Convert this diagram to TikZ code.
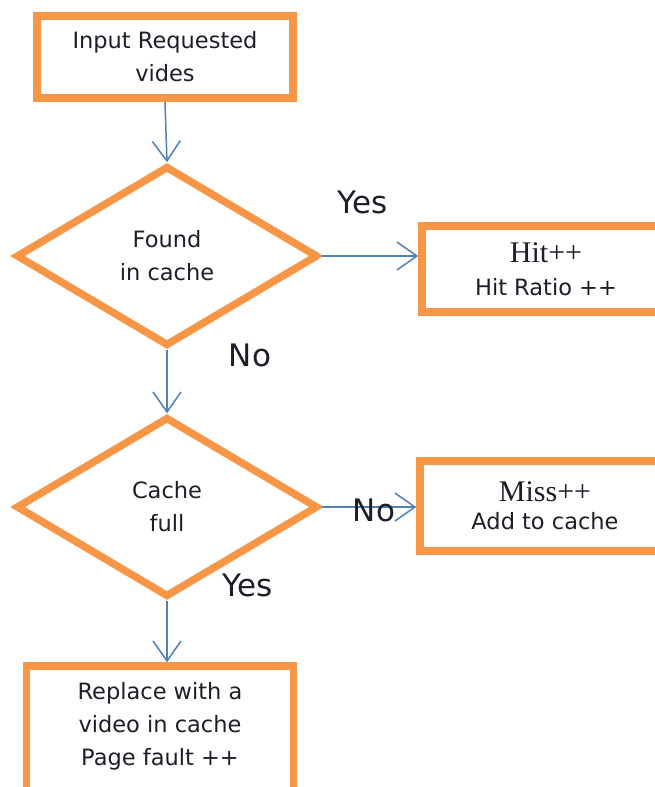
\documentclass[tikz,border=0pt]{standalone}
\usepackage{fontspec}
\setmainfont{DejaVu Sans}
\newfontfamily\hitfont{Liberation Serif}
\usetikzlibrary{positioning,arrows.meta,shapes.geometric}
\definecolor{boxorange}{HTML}{F79646}
\definecolor{flowblue}{HTML}{4F81BD}
\definecolor{inkdark}{HTML}{1E1E28}

\begin{document}
\begin{tikzpicture}[x=1pt, y=-1pt,
    every node/.style={font=\fontsize{22.5}{33}\selectfont, text=inkdark},
    box/.style={draw=boxorange, line width=7.5pt, fill=white, align=center, inner sep=0pt},
    decision/.style={draw=boxorange, line width=7.5pt, fill=white, diamond, align=center, inner sep=0pt},
    flow/.style={-{Straight Barb[length=20pt,width=28pt]}, flowblue, line width=1.5pt},
    answer/.style={font=\fontsize{31}{33}\selectfont}]
  \clip (0,0) rectangle (655,787);
  \fill[white] (0,0) rectangle (655,787);
  % boxes and decisions
  \node[box, minimum width=256, minimum height=82] (a) at (165,57) {Input Requested\\vides};
  \node[decision, minimum width=302, minimum height=180] (b) at (167,256) {Found\\in cache};
  \node[box, minimum width=248, minimum height=86] (c) at (546,269)
    {{\hitfont\fontsize{30}{33}\selectfont Hit++}\\Hit Ratio ++};
  \node[decision, minimum width=302, minimum height=180] (d) at (167,507) {Cache\\full};
  \node[box, minimum width=250, minimum height=90] (e) at (545,506)
    {{\hitfont\fontsize{30}{33}\selectfont Miss++}\\[-5pt]Add to cache};
  \node[box, minimum width=267, minimum height=130] (f) at (160,731) {};
  \node[align=center] (ft) at (160,726) {Replace with a\\video in cache\\Page fault ++};
  % connectors
  \draw[flow] (a.south) -- (b.north);
  \draw[flow] (b.east) -- (b.east -| c.west);
  \draw[flow] (b.south) -- (d.north);
  \draw[flow] (d.east) -- (d.east -| e.west);
  \draw[flow] (d.south) -- (d.south |- f.north);
  % answers
  \node[answer] (yes1) at (363,202) {Yes};
  \node[answer] (no1) at (250,355) {No};
  \node[answer] (no2) at (374,510) {No};
  \node[answer] (yes2) at (248,585) {Yes};
\end{tikzpicture}
\end{document}
